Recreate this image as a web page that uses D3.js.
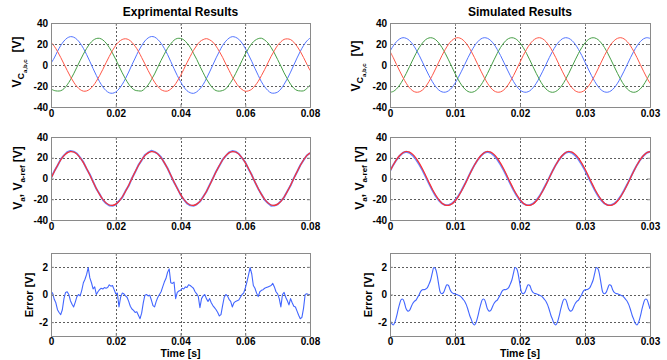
<!DOCTYPE html>
<html><head><meta charset="utf-8">
<script src="https://cdn.jsdelivr.net/npm/d3@7"></script>
<style>body{margin:0;background:#fff;} svg{display:block;font-family:"Liberation Sans",Arial,sans-serif;}</style>
</head><body><svg id="c" width="667" height="360"></svg>
<script>
// ---------- text & ticks ----------
const titles = ["Exprimental Results", "Simulated Results"];
const xTicksLeft = [0, 0.02, 0.04, 0.06, 0.08];
const xTickLabelsLeft = ["0", "0.02", "0.04", "0.06", "0.08"];
const xTicksRight = [0, 0.01, 0.02, 0.03, 0.04];
const xTickLabelsRight = ["0", "0.01", "0.02", "0.03", "0.03"];
const yTicksVolt = [-40, -20, 0, 20, 40];
const yTickLabelsVolt = ["-40", "-20", "0", "20", "40"];
const yTicksErr = [-2, 0, 2];
const yTickLabelsErr = ["-2", "0", "2"];
const xLabel = "Time [s]";

// sample steps (s)
const dtVoltLeft = 0.001, dtVoltRight = 0.0005, dtErrLeft = 0.0005, dtErrRight = 0.00025;

// ---------- experimental (left) ----------
const expVa = [1.5,6.7,13.0,18.5,22.8,25.7,27.0,26.5,24.4,20.8,15.9,9.9,3.4,-3.4,-9.9,-15.9,-20.8,-24.4,-26.5,-26.9,-25.7,-22.8,-18.5,-13.0,-6.7,
0.2,6.6,13.1,18.4,22.9,25.8,27.1,26.6,24.3,20.7,15.8,10.0,3.3,-3.5,-10.0,-15.8,-20.9,-24.5,-26.4,-27.0,-25.6,-22.7,-18.6,-12.9,-6.6,
0.1,6.8,12.9,18.6,22.7,25.6,27.0,26.4,24.5,20.9,15.9,9.8,3.5,-3.3,-9.8,-16.0,-20.7,-24.3,-26.6,-26.8,-25.8,-22.9,-18.4,-13.1,-6.8,
0.0,6.7,13.0,18.5,22.8,25.6];
const expVb = [-22.8,-24.3,-24.8,-24.5,-22.6,-18.9,-14.1,-8.4,-2.1,4.3,10.4,15.8,20.3,23.5,25.2,25.4,23.9,20.9,16.7,11.3,5.3,-1.1,-7.4,-13.2,-18.2,
-22.0,-24.1,-24.6,-24.7,-22.4,-19.0,-14.0,-8.5,-2.0,4.4,10.3,15.9,20.2,23.6,25.3,25.3,24.0,20.8,16.8,11.2,5.4,-1.2,-7.3,-13.3,-18.1,
-22.2,-24.4,-24.9,-24.3,-22.7,-18.8,-14.2,-8.3,-2.2,4.2,10.5,15.7,20.4,23.4,25.1,25.5,23.8,21.0,16.6,11.4,5.2,-1.0,-7.5,-13.1,-18.3,
-22.1,-24.2,-24.7,-24.6,-22.5,-18.9];
const expVc = [21.7,17.9,13.0,7.2,1.0,-5.2,-11.1,-16.3,-20.5,-23.4,-24.9,-24.7,-23.0,-19.9,-15.5,-10.2,-4.2,2.1,8.2,13.8,18.6,22.2,24.3,25.0,24.1,
21.6,17.8,13.1,7.1,1.1,-5.3,-11.0,-16.4,-20.4,-23.5,-24.8,-24.8,-22.9,-20.0,-15.4,-10.3,-4.1,2.2,8.1,13.9,18.5,22.3,24.2,25.1,24.0,
21.8,17.9,12.9,7.3,0.9,-5.1,-11.2,-16.2,-20.6,-23.3,-25.0,-24.6,-23.1,-19.8,-15.6,-10.1,-4.3,2.0,8.3,13.7,18.7,22.1,24.4,24.9,24.2,
21.7,17.8,13.0,7.2,1.0,-5.2];
const expVaMeas = [0.5,6.9,12.3,18.4,22.3,25.3,26.6,25.9,24.1,20.2,15.8,9.3,3.9,-3.0,-9.9,-15.0,-20.6,-23.9,-26.1,-26.3,-25.2,-21.6,-18.3,-12.1,-7.0,
0.3,6.2,12.9,17.5,22.6,24.9,26.8,25.7,23.8,20.5,15.1,9.9,3.1,-3.6,-9.3,-15.6,-20.2,-24.0,-25.9,-26.4,-24.9,-22.3,-17.6,-12.8,-6.2,
0.2,6.8,12.2,18.1,21.8,25.2,26.5,25.9,23.9,19.8,15.7,9.2,3.6,-3.5,-9.8,-15.1,-20.5,-23.7,-26.2,-26.1,-25.0,-21.8,-18.1,-12.3,-6.8,
0.4,6.3,12.8,17.6,22.2,24.5];
const expVaRef = [0,6.5,12.5,17.8,22.0,24.7,25.9,25.5,23.5,20.0,15.3,9.6,3.3,-3.3,-9.6,-15.3,-20.0,-23.5,-25.5,-25.9,-24.7,-22.0,-17.8,-12.5,-6.5,
0,6.5,12.5,17.8,22.0,24.7,25.9,25.5,23.5,20.0,15.3,9.6,3.3,-3.3,-9.6,-15.3,-20.0,-23.5,-25.5,-25.9,-24.7,-22.0,-17.8,-12.5,-6.5,
0,6.5,12.5,17.8,22.0,24.7,25.9,25.5,23.5,20.0,15.3,9.6,3.3,-3.3,-9.6,-15.3,-20.0,-23.5,-25.5,-25.9,-24.7,-22.0,-17.8,-12.5,-6.5,
0,6.5,12.5,17.8,22.0,24.7];
const expError = [0.2,0.1,-0.35,-0.6,-1.1,-1.3,-1.45,-1.1,-0.3,0.15,
0.2,0.0,-0.45,-0.7,-0.9,-0.55,-0.15,0.0,-0.1,0.3,
0.85,1.1,1.45,1.95,1.2,0.85,0.4,0.55,0.0,0.2,
0.35,0.45,0.4,0.5,0.45,0.5,0.7,0.6,0.65,0.35,
0.05,0.1,-0.9,-0.2,0.1,0.05,-0.1,-0.2,-0.5,-0.85,
-1.05,-1.15,-1.3,-1.25,-1.5,-1.75,-1.35,-0.6,-0.05,0.0,
-0.1,-0.05,-0.4,-0.8,-0.9,-0.5,-0.2,0.0,0.2,0.55,
0.9,1.15,1.6,1.85,0.85,0.8,0.9,-0.3,0.15,0.25,
0.3,0.45,0.4,0.55,0.5,0.7,0.65,0.55,0.45,0.2,
0.05,-0.15,-0.95,-0.3,-0.1,0.0,-0.3,-0.5,-0.3,-0.6,
-0.8,-0.95,-1.1,-1.3,-1.55,-1.45,-0.8,-0.2,0.0,-0.1,
-0.35,-0.5,-0.9,-0.6,-0.5,-0.45,-0.4,-0.2,0.0,0.1,
0.45,0.9,1.4,1.95,1.5,0.65,0.45,0.1,-0.15,0.2,
0.3,0.35,0.45,0.5,0.55,0.6,0.65,0.8,0.55,0.2,
0.05,-0.3,-0.9,0.0,0.15,-0.2,-0.45,-0.75,-0.3,-0.6,
-0.85,-0.9,-1.2,-1.5,-1.75,-1.65,-1.0,0.0,0.05,0.0,
0.0];

// ---------- simulated (right) ----------
const simVa = [13.0,18.2,22.2,24.9,26.0,25.4,23.3,19.7,14.8,9.1,2.7,-3.8,-10.1,-15.7,-20.4,-23.8,-25.6,-25.9,-24.6,-21.7,-17.4,-12.0,-5.9,0.5,7.0,
13.0,18.2,22.2,24.9,26.0,25.4,23.3,19.7,14.8,9.1,2.7,-3.8,-10.1,-15.7,-20.4,-23.8,-25.6,-25.9,-24.6,-21.7,-17.4,-12.0,-5.9,0.5,7.0,
13.0,18.2,22.2,24.9,26.0,25.4,23.3,19.7,14.8,9.1,2.7,-3.8,-10.1,-15.7,-20.4,-23.8,-25.6,-25.9,-24.6,-21.7,-17.4,-12.0,-5.9,0.5,7.0,
13.0,18.2,22.2,24.9,26.0,25.4];
const simVb = [-26.0,-25.2,-22.8,-19.0,-13.9,-8.0,-1.6,4.9,11.1,16.6,21.0,24.2,25.8,25.8,24.2,21.0,16.6,11.1,4.9,-1.6,-8.0,-13.9,-19.0,-22.8,-25.2,
-26.0,-25.2,-22.8,-19.0,-13.9,-8.0,-1.6,4.9,11.1,16.6,21.0,24.2,25.8,25.8,24.2,21.0,16.6,11.1,4.9,-1.6,-8.0,-13.9,-19.0,-22.8,-25.2,
-26.0,-25.2,-22.8,-19.0,-13.9,-8.0,-1.6,4.9,11.1,16.6,21.0,24.2,25.8,25.8,24.2,21.0,16.6,11.1,4.9,-1.6,-8.0,-13.9,-19.0,-22.8,-25.2,
-26.0,-25.2,-22.8,-19.0,-13.9,-8.0];
const simVc = [13.0,7.0,0.5,-5.9,-12.0,-17.4,-21.7,-24.6,-25.9,-25.6,-23.8,-20.4,-15.7,-10.1,-3.8,2.7,9.1,14.8,19.7,23.3,25.4,26.0,24.9,22.2,18.2,
13.0,7.0,0.5,-5.9,-12.0,-17.4,-21.7,-24.6,-25.9,-25.6,-23.8,-20.4,-15.7,-10.1,-3.8,2.7,9.1,14.8,19.7,23.3,25.4,26.0,24.9,22.2,18.2,
13.0,7.0,0.5,-5.9,-12.0,-17.4,-21.7,-24.6,-25.9,-25.6,-23.8,-20.4,-15.7,-10.1,-3.8,2.7,9.1,14.8,19.7,23.3,25.4,26.0,24.9,22.2,18.2,
13.0,7.0,0.5,-5.9,-12.0,-17.4];
const simVaMeas = [7.3,13.1,18.0,22.0,24.8,25.8,24.8,22.2,18.4,13.4,7.8,1.5,-5.0,-11.2,-16.6,-21.0,-24.1,-25.7,-25.7,-24.3,-21.3,-17.0,-11.6,-5.6,0.8,
7.3,13.1,18.0,22.0,24.8,25.8,24.8,22.2,18.4,13.4,7.8,1.5,-5.0,-11.2,-16.6,-21.0,-24.1,-25.7,-25.7,-24.3,-21.3,-17.0,-11.6,-5.6,0.8,
7.3,13.1,18.0,22.0,24.8,25.8,24.8,22.2,18.4,13.4,7.8,1.5,-5.0,-11.2,-16.6,-21.0,-24.1,-25.7,-25.7,-24.3,-21.3,-17.0,-11.6,-5.6,0.8,
7.3,13.1,18.0,22.0,24.8,25.8];
const simVaRef = [7.0,13.0,18.2,22.2,24.9,26.0,25.4,23.3,19.7,14.8,9.1,2.7,-3.8,-10.1,-15.7,-20.4,-23.8,-25.6,-25.9,-24.6,-21.7,-17.4,-12.0,-5.9,0.5,
7.0,13.0,18.2,22.2,24.9,26.0,25.4,23.3,19.7,14.8,9.1,2.7,-3.8,-10.1,-15.7,-20.4,-23.8,-25.6,-25.9,-24.6,-21.7,-17.4,-12.0,-5.9,0.5,
7.0,13.0,18.2,22.2,24.9,26.0,25.4,23.3,19.7,14.8,9.1,2.7,-3.8,-10.1,-15.7,-20.4,-23.8,-25.6,-25.9,-24.6,-21.7,-17.4,-12.0,-5.9,0.5,
7.0,13.0,18.2,22.2,24.9,26.0];
const simError = [-1.8,-2.1,-2.2,-2.0,-1.6,-1.1,-0.65,-0.35,-0.35,-0.65,-1.05,-1.2,-1.15,-0.9,-0.65,-0.5,-0.4,-0.2,0.0,0.25,0.35,0.35,0.4,0.5,0.75,1.05,1.55,1.95,1.85,1.4,0.7,0.15,0.05,0.15,0.45,0.7,0.65,0.35,0.15,0.08,0.05,0.0,-0.05,-0.1,-0.2,-0.35,-0.5,-0.75,-1.1,-1.5,
-1.8,-2.1,-2.2,-2.0,-1.6,-1.1,-0.65,-0.35,-0.35,-0.65,-1.05,-1.2,-1.15,-0.9,-0.65,-0.5,-0.4,-0.2,0.0,0.25,0.35,0.35,0.4,0.5,0.75,1.05,1.55,1.95,1.85,1.4,0.7,0.15,0.05,0.15,0.45,0.7,0.65,0.35,0.15,0.08,0.05,0.0,-0.05,-0.1,-0.2,-0.35,-0.5,-0.75,-1.1,-1.5,
-1.8,-2.1,-2.2,-2.0,-1.6,-1.1,-0.65,-0.35,-0.35,-0.65,-1.05,-1.2,-1.15,-0.9,-0.65,-0.5,-0.4,-0.2,0.0,0.25,0.35,0.35,0.4,0.5,0.75,1.05,1.55,1.95,1.85,1.4,0.7,0.15,0.05,0.15,0.45,0.7,0.65,0.35,0.15,0.08,0.05,0.0,-0.05,-0.1,-0.2,-0.35,-0.5,-0.75,-1.1,-1.5,
-1.8,-2.1,-2.2,-2.0,-1.6,-1.1,-0.65,-0.35,-0.35,-0.65,-1.05];

// ---------- drawing ----------
const svg = d3.select("#c");
const COL = {blue:"#5274ff", green:"#459e45", red:"#ff5646", frame:"#8a8a8a", grid:"#333"};
const cols = [{x0:51, x1:310, xDomain:[0,0.08], xTicks:xTicksLeft, xLabels:xTickLabelsLeft},
              {x0:390, x1:650, xDomain:[0,0.04], xTicks:xTicksRight, xLabels:xTickLabelsRight}];
const rows = [[23,107],[137,220],[253,336]];
let clipN = 0;

function panel(c, r, yDomain, yTicks, yLabels, series, showXLabel){
  const [y0,y1] = rows[r];
  const x = d3.scaleLinear().domain(c.xDomain).range([c.x0, c.x1]);
  const y = d3.scaleLinear().domain(yDomain).range([y1, y0]);
  const g = svg.append("g");
  const id = "clp" + (clipN++);
  svg.append("defs").append("clipPath").attr("id", id).append("rect")
    .attr("x", c.x0).attr("y", y0).attr("width", c.x1 - c.x0).attr("height", y1 - y0);
  // grid
  g.selectAll(null).data(c.xTicks.filter(v => v > c.xDomain[0] && v < c.xDomain[1])).join("line")
    .attr("x1", d => Math.round(x(d)) + 0.5).attr("x2", d => Math.round(x(d)) + 0.5)
    .attr("y1", y0).attr("y2", y1)
    .attr("stroke", COL.grid).attr("stroke-width", 0.8).attr("stroke-dasharray", "2,2");
  g.selectAll(null).data(yTicks.filter(v => v > yDomain[0] && v < yDomain[1])).join("line")
    .attr("y1", d => Math.round(y(d)) + 0.5).attr("y2", d => Math.round(y(d)) + 0.5)
    .attr("x1", c.x0).attr("x2", c.x1)
    .attr("stroke", COL.grid).attr("stroke-width", 0.8).attr("stroke-dasharray", "2,2");
  // series
  const lg = g.append("g").attr("clip-path", `url(#${id})`);
  series.forEach(s => {
    const line = d3.line().x((d, i) => x(i * s.dt)).y(d => y(d)).curve(s.curve || d3.curveLinear);
    lg.append("path").datum(s.values).attr("d", line).attr("fill", "none")
      .attr("stroke", s.color).attr("stroke-width", s.width).attr("stroke-linejoin", "round");
  });
  // axes
  const fmtX = d => c.xLabels[c.xTicks.indexOf(d)];
  const fmtY = d => yLabels[yTicks.indexOf(d)];
  const ax = g.append("g").attr("transform", `translate(0,${y1})`)
    .call(d3.axisBottom(x).tickValues(c.xTicks).tickFormat(fmtX).tickSize(-3).tickPadding(r === 2 ? 2 : 3));
  const at = g.append("g").attr("transform", `translate(0,${y0})`)
    .call(d3.axisTop(x).tickValues(c.xTicks).tickFormat("").tickSize(-3));
  const ay = g.append("g").attr("transform", `translate(${c.x0},0)`)
    .call(d3.axisLeft(y).tickValues(yTicks).tickFormat(fmtY).tickSize(-3).tickPadding(3));
  const ar = g.append("g").attr("transform", `translate(${c.x1},0)`)
    .call(d3.axisRight(y).tickValues(yTicks).tickFormat("").tickSize(-3));
  [ax, at, ay, ar].forEach(a => {
    a.select(".domain").attr("stroke", COL.frame);
    a.selectAll(".tick line").attr("stroke", COL.frame);
    a.selectAll("text").attr("font-family", '"Liberation Sans", Arial, sans-serif')
      .attr("font-size", 10).attr("font-weight", "bold").attr("fill", "#000");
  });
  if (showXLabel) {
    g.append("text").attr("x", (c.x0 + c.x1) / 2).attr("y", 357).attr("text-anchor", "middle")
      .attr("font-size", 10.5).attr("font-weight", "bold").text(xLabel);
  }
  return g;
}

function yLab(x, yc, parts){
  const t = svg.append("text").attr("transform", `translate(${x},${yc}) rotate(-90)`)
    .attr("text-anchor", "middle").attr("font-weight", "bold").attr("font-size", 12);
  parts.forEach(p => {
    const s = t.append("tspan").text(p.t);
    if (p.fs) s.attr("font-size", p.fs);
    if (p.dy) s.attr("dy", p.dy);
    if (p.dx) s.attr("dx", p.dx);
  });
}
const vcParts = [{t:"V"},{t:"C", fs:9, dy:3},{t:"a,b,c", fs:6, dy:2.5},{t:"[V]", dy:-5.5, dx:7}];
const vaParts = [{t:"V"},{t:"a", fs:8, dy:3},{t:", V", dy:-3},{t:"a-ref", fs:8, dy:3},{t:"[V]", dy:-3, dx:3}];
const errParts = [{t:"Error [V]", fs:11}];

cols.forEach((c, ci) => {
  const isL = ci === 0;
  const vL = isL ? [expVa, expVb, expVc] : [simVa, simVb, simVc];
  const dtV = isL ? dtVoltLeft : dtVoltRight;
  panel(c, 0, [-40, 40], yTicksVolt, yTickLabelsVolt, [
    {values: vL[0], dt: dtV, color: COL.blue, width: 1, curve: d3.curveCatmullRom},
    {values: vL[1], dt: dtV, color: COL.green, width: 1, curve: d3.curveCatmullRom},
    {values: vL[2], dt: dtV, color: COL.red, width: 1, curve: d3.curveCatmullRom}], false);
  panel(c, 1, [-40, 40], yTicksVolt, yTickLabelsVolt, [
    {values: isL ? expVaMeas : simVaMeas, dt: dtV, color: "#6a86ff", width: 1.9, curve: d3.curveLinear},
    {values: isL ? expVaRef : simVaRef, dt: dtV, color: "#ff3030", width: 1.2, curve: d3.curveCatmullRom}], false);
  panel(c, 2, [-3, 3], yTicksErr, yTickLabelsErr, [
    {values: isL ? expError : simError, dt: isL ? dtErrLeft : dtErrRight, color: "#4266ff", width: 1.1,
     curve: isL ? d3.curveLinear : d3.curveCatmullRom}], true);
  svg.append("text").attr("x", (c.x0 + c.x1) / 2).attr("y", 16).attr("text-anchor", "middle")
    .attr("font-size", 12).attr("font-weight", "bold").text(titles[ci]);
});
yLab(21, 62, vcParts);
yLab(360, 66, vcParts);
yLab(22, 178, vaParts);
yLab(364, 178, vaParts);
yLab(33, 295, errParts);
yLab(372, 295, errParts);
</script>
</body></html>
